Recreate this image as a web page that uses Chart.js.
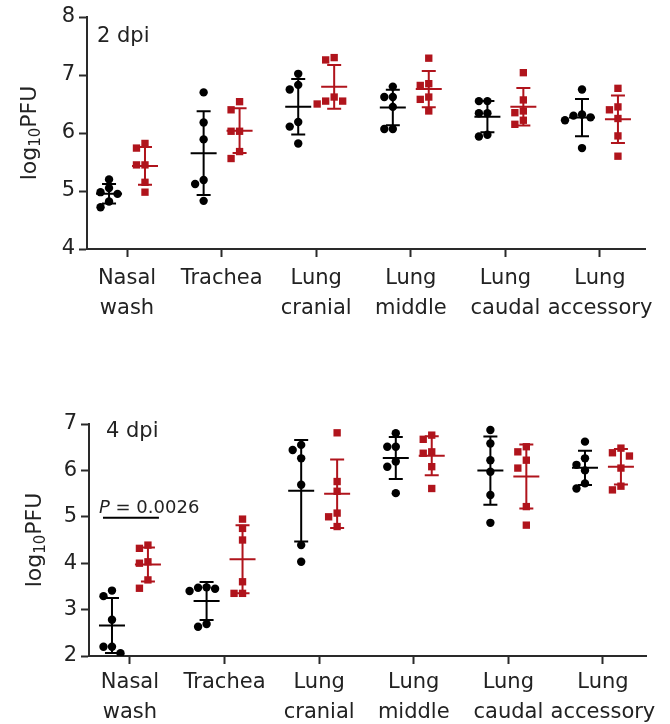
<!DOCTYPE html>
<html><head><meta charset="utf-8">
<script src="https://cdn.jsdelivr.net/npm/chart.js@4.4.1/dist/chart.umd.min.js"></script>
<style>
html,body{margin:0;padding:0;background:#fff;}
#wrap{position:relative;width:670px;height:724px;overflow:hidden;background:#fff;}
#c1{position:absolute;left:0;top:0;}
#c2{position:absolute;left:0;top:400px;}
</style></head><body>
<div id="wrap"><canvas id="c1" width="670" height="335"></canvas><canvas id="c2" width="670" height="324"></canvas></div>
<script>
// ---- data ----
const categories = [['Nasal','wash'],['Trachea'],['Lung','cranial'],['Lung','middle'],['Lung','caudal'],['Lung','accessory']];

const dpi2Black = [
  [5.20, 5.05, 4.98, 4.95, 4.82, 4.72],
  [6.70, 6.18, 5.89, 5.19, 5.12, 4.83],
  [7.02, 6.83, 6.75, 6.19, 6.11, 5.82],
  [6.80, 6.62, 6.62, 6.45, 6.07, 6.07],
  [6.55, 6.55, 6.34, 6.34, 5.97, 5.94],
  [6.75, 6.32, 6.30, 6.27, 6.22, 5.74]
];
const dpi2Red = [
  [5.82, 5.74, 5.45, 5.45, 5.15, 4.98],
  [6.54, 6.40, 6.03, 6.03, 5.68, 5.56],
  [7.30, 7.26, 6.62, 6.55, 6.50, 6.55],
  [7.29, 6.85, 6.82, 6.62, 6.58, 6.38],
  [7.04, 6.57, 6.38, 6.35, 6.22, 6.15],
  [6.77, 6.45, 6.40, 6.25, 5.95, 5.60]
];
const dpi4Black = [
  [3.41, 3.29, 2.78, 2.20, 2.20, 2.06],
  [3.48, 3.47, 3.45, 3.40, 2.69, 2.63],
  [6.55, 6.44, 6.26, 5.69, 4.39, 4.03],
  [6.80, 6.51, 6.51, 6.19, 6.08, 5.51],
  [6.87, 6.58, 6.22, 5.97, 5.47, 4.87],
  [6.62, 6.26, 6.12, 6.00, 5.72, 5.61]
];
const dpi4Red = [
  [4.39, 4.32, 4.03, 4.00, 3.64, 3.46],
  [4.95, 4.75, 4.50, 3.60, 3.35, 3.35],
  [6.81, 5.76, 5.55, 5.08, 5.00, 4.79],
  [6.76, 6.67, 6.40, 6.37, 6.08, 5.61],
  [6.51, 6.40, 6.22, 6.05, 5.22, 4.82],
  [6.48, 6.38, 6.31, 6.05, 5.66, 5.58]
];
const yTicks2 = [4, 5, 6, 7, 8];
const yTicks4 = [2, 3, 4, 5, 6, 7];
const panelLabels = ['2 dpi', '4 dpi'];
const pTest = {group: 0, y: 4.98, label: '0.0026'};

// ---- styles ----
const FONT = 'DejaVu Sans, Liberation Sans, Arial, sans-serif';
const BLACK = '#000000';
const RED = '#b0141c';
const AXIS = '#2a2a2a';
const TXT = '#222222';
const GROUP_OFF = 0.19;

function mean(a){ return a.reduce((s,v)=>s+v,0)/a.length; }
function sd(a){ const m=mean(a); return Math.sqrt(a.reduce((s,v)=>s+(v-m)*(v-m),0)/(a.length-1)); }

// beeswarm-style horizontal spread of points with close values
function swarm(vals, center, thr, step){
  const idx = vals.map((v,i)=>i).sort((a,b)=>vals[b]-vals[a]);
  const placed = [];
  const out = new Array(vals.length);
  const cands = [0,-1,1,-2,2,-3,3];
  for (const i of idx){
    const v = vals[i];
    for (const c of cands){
      const ok = placed.every(p => !(Math.abs(p.v - v) < thr && p.c === c));
      if (ok){ placed.push({v, c}); out[i] = {x: center + c*step, y: v}; break; }
    }
  }
  return out;
}

function makeChart(id, cfg){
  const {black, red, yMin, yMax, yTicks, xMin, xMax, areaTop, axisH, yAxisW, padRight,
         label, labelX, labelY, titleX, canvasH, pMark, xPad} = cfg;
  const pxPerUnit = (canvasH - axisH - areaTop) / (yMax - yMin);
  const pxPerCat = (670 - padRight - yAxisW) / (xMax - xMin);
  const thr = 8.5 / pxPerUnit, step = 8.5 / pxPerCat;
  const blackPts = [], redPts = [];
  black.forEach((g,i)=> blackPts.push(...swarm(g, i - GROUP_OFF, thr, step)));
  red.forEach((g,i)=> redPts.push(...swarm(g, i + GROUP_OFF, thr, step)));

  const errPlugin = {
    id: 'err',
    afterDatasetsDraw(chart){
      const ctx = chart.ctx, xs = chart.scales.x, ys = chart.scales.y;
      const draw = (groups, off, color) => {
        groups.forEach((g,i)=>{
          const m = mean(g), s = sd(g);
          const cx = xs.getPixelForValue(i + off);
          const ym = ys.getPixelForValue(m), yt = ys.getPixelForValue(m + s), yb = ys.getPixelForValue(m - s);
          ctx.save();
          ctx.strokeStyle = color; ctx.lineWidth = 2; ctx.lineCap = 'butt';
          ctx.beginPath();
          ctx.moveTo(cx, yt); ctx.lineTo(cx, yb);
          ctx.moveTo(cx - 7, yt); ctx.lineTo(cx + 7, yt);
          ctx.moveTo(cx - 7, yb); ctx.lineTo(cx + 7, yb);
          ctx.moveTo(cx - 13, ym); ctx.lineTo(cx + 13, ym);
          ctx.stroke();
          ctx.restore();
        });
      };
      draw(black, -GROUP_OFF, BLACK);
      draw(red, GROUP_OFF, RED);
    },
    afterDraw(chart){
      const ctx = chart.ctx, ys = chart.scales.y, xs = chart.scales.x;
      const area = chart.chartArea;
      // y axis title with subscript
      ctx.save();
      const big = '22px ' + FONT, small = '15px ' + FONT;
      ctx.font = big; const w1 = ctx.measureText('log').width, w3 = ctx.measureText('PFU').width;
      ctx.font = small; const w2 = ctx.measureText('10').width;
      const total = w1 + w2 + w3;
      const cy = (area.top + area.bottom) / 2;
      ctx.translate(titleX, cy);
      ctx.rotate(-Math.PI/2);
      ctx.fillStyle = TXT; ctx.textBaseline = 'middle'; ctx.textAlign = 'left';
      let x = -total/2;
      ctx.font = big; ctx.fillText('log', x, 0); x += w1;
      ctx.font = small; ctx.fillText('10', x, 6); x += w2;
      ctx.font = big; ctx.fillText('PFU', x, 0);
      ctx.restore();
      // panel label
      ctx.save();
      ctx.font = '21px ' + FONT; ctx.fillStyle = TXT; ctx.textBaseline = 'middle'; ctx.textAlign = 'left';
      ctx.fillText(label, labelX, labelY);
      ctx.restore();
      // p value annotation
      if (pMark){
        const x0 = xs.getPixelForValue(pMark.group - GROUP_OFF) - 9;
        const x1 = xs.getPixelForValue(pMark.group + GROUP_OFF) + 11;
        const y = ys.getPixelForValue(pMark.y);
        ctx.save();
        ctx.strokeStyle = BLACK; ctx.lineWidth = 2;
        ctx.beginPath(); ctx.moveTo(x0, y); ctx.lineTo(x1, y); ctx.stroke();
        ctx.fillStyle = TXT; ctx.textBaseline = 'alphabetic'; ctx.textAlign = 'left';
        ctx.font = 'italic 18px ' + FONT;
        ctx.fillText('P', x0 - 4, y - 5);
        const wp = ctx.measureText('P').width;
        ctx.font = '18px ' + FONT;
        ctx.fillText(' = ' + pMark.label, x0 - 4 + wp, y - 5);
        ctx.restore();
      }
    }
  };

  const gridCfg = {drawOnChartArea:false, drawTicks:true, tickLength:8, tickWidth:2, tickColor:AXIS};
  return new Chart(document.getElementById(id), {
    type: 'scatter',
    data: {datasets: [
      {data: blackPts, pointStyle:'circle', pointRadius:4.2, pointHoverRadius:4.2, backgroundColor:BLACK, borderWidth:0},
      {data: redPts, pointStyle:'rect', pointRadius:5.2, pointHoverRadius:5.2, backgroundColor:RED, borderWidth:0}
    ]},
    options: {
      responsive:false, animation:false, devicePixelRatio:1,
      layout: {padding: {top: areaTop, right: padRight, left: 0, bottom: 0}},
      plugins: {legend:{display:false}, tooltip:{enabled:false}},
      scales: {
        x: {type:'linear', min:xMin, max:xMax,
          afterBuildTicks: s => { s.ticks = categories.map((c,i)=>({value:i})); },
          afterFit: s => { s.height = axisH; },
          ticks: {callback: v => categories[v], font:{family:FONT, size:21, lineHeight:1.42}, color:TXT, padding:xPad, maxRotation:0, autoSkip:false},
          grid: gridCfg, border: {color:AXIS, width:2}},
        y: {type:'linear', min:yMin, max:yMax,
          afterBuildTicks: s => { s.ticks = yTicks.map(v=>({value:v})); },
          afterFit: s => { s.width = yAxisW; },
          ticks: {font:{family:FONT, size:21}, color:TXT, padding:4},
          grid: gridCfg, border: {color:AXIS, width:2}}
      }
    },
    plugins: [errPlugin]
  });
}

makeChart('c1', {black: dpi2Black, red: dpi2Red, yMin:4, yMax:8, yTicks: yTicks2,
  xMin:-0.423, xMax:5.476, areaTop:17, axisH:86, yAxisW:87, padRight:25, canvasH:335, xPad:7,
  label: panelLabels[0], labelX: 97, labelY: 37, titleX: 30, pMark: null});
makeChart('c2', {black: dpi4Black, red: dpi4Red, yMin:2, yMax:7, yTicks: yTicks4,
  xMin:-0.433, xMax:5.455, areaTop:24, axisH:68, yAxisW:89, padRight:24, canvasH:324, xPad:4,
  label: panelLabels[1], labelX: 106, labelY: 32, titleX: 35, pMark: pTest});
</script>
</body></html>
